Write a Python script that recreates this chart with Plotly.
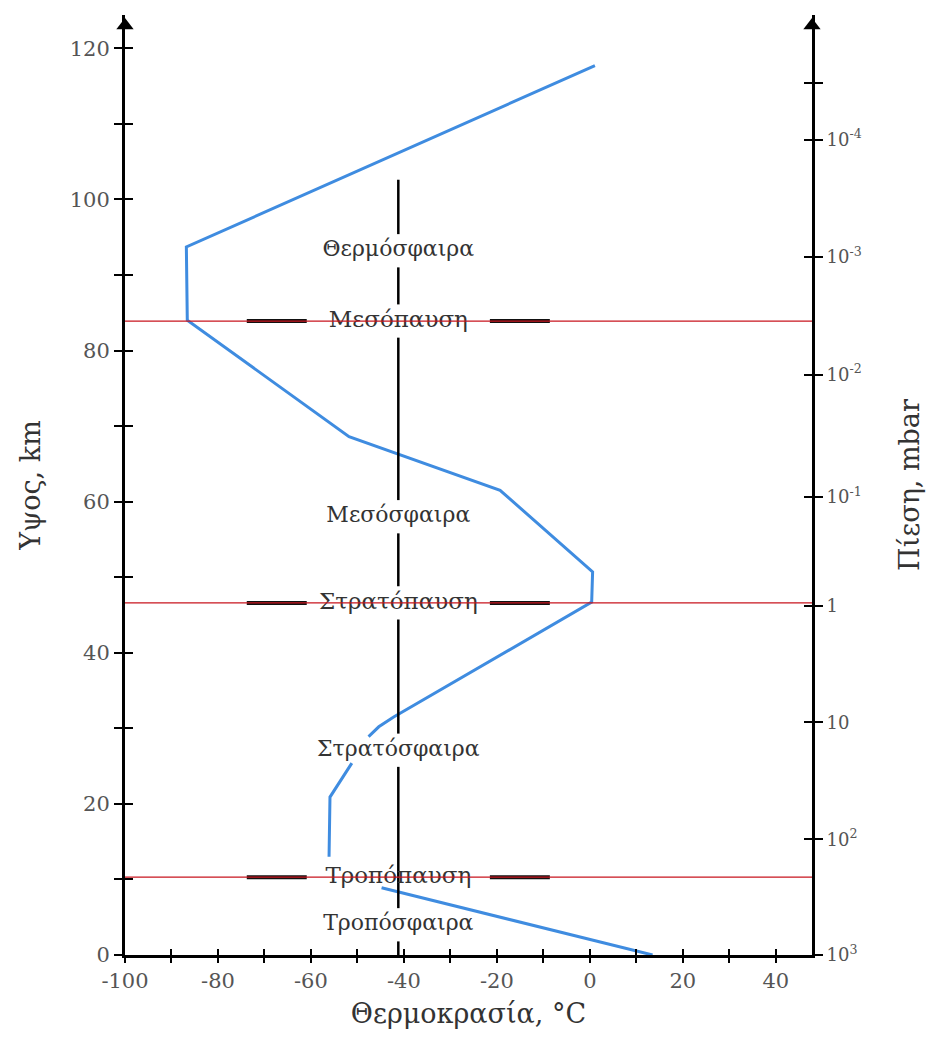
import plotly.graph_objects as go

# ---- data ----
temp_c = [13.5, -44.8, None, -56.1, -55.9, -51.2, None, -47.6, -45.4, -42.2,
          0.4, 0.6, -19.3, -51.8, -86.6, -86.8, 1.1]
alt_km = [0.0, 8.9, None, 13.0, 20.9, 25.4, None, 28.9, 30.2, 31.5,
          46.7, 50.7, 61.5, 68.6, 84.0, 93.7, 117.7]

layer_names = ["Τροπόσφαιρα", "Στρατόσφαιρα", "Μεσόσφαιρα", "Θερμόσφαιρα"]
layer_alt = [4.0, 27.1, 58.0, 93.2]

pause_names = ["Τροπόπαυση", "Στρατόπαυση", "Μεσόπαυση"]
pause_alt = [10.3, 46.6, 83.9]
pause_breaks_divider = [False, True, True]

pressure_labels = ["10<sup>3</sup>", "10<sup>2</sup>", "10", "1", "10<sup>-1</sup>",
                   "10<sup>-2</sup>", "10<sup>-3</sup>", "10<sup>-4</sup>"]
pressure_alt = [0.0, 15.3, 30.8, 46.2, 60.6, 76.8, 92.4, 107.9]
pressure_extra_tick_alt = [115.4]

x_major = list(range(-100, 41, 20))
x_major_text = [str(v) for v in x_major]
x_minor = list(range(-90, 41, 20))
y_major = list(range(0, 121, 20))
y_major_text = [str(v) for v in y_major]
y_minor = list(range(10, 121, 20))

divider_x = -41.2
divider_top = 102.6

# ---- styling constants ----
X_MIN, X_MAX = -100, 47.8
Y_MIN, Y_MAX = 0, 124.4
GAP = 2.2
DASH_HALF = 32.6
TEXT_HALF = 19.7
SERIF = "DejaVu Serif"
BLUE = "#3f8ce0"
RED = "#c8141e"

fig = go.Figure()

# temperature profile
fig.add_trace(go.Scatter(x=temp_c, y=alt_km, mode="lines",
                         line=dict(color=BLUE, width=3), connectgaps=False,
                         hoverinfo="skip", showlegend=False))

# central divider line, interrupted by labels
gaps = sorted(layer_alt + [a for a, b in zip(pause_alt, pause_breaks_divider) if b])
dx, dy = [], []
start = 0.0
for g in gaps:
    dx += [divider_x, divider_x, None]
    dy += [start, g - GAP, None]
    start = g + GAP
dx += [divider_x, divider_x]
dy += [start, divider_top]
fig.add_trace(go.Scatter(x=dx, y=dy, mode="lines", line=dict(color="black", width=2.5),
                         hoverinfo="skip", showlegend=False))

# black dashes either side of pause labels
bx, by = [], []
for a in pause_alt:
    bx += [divider_x - DASH_HALF, divider_x - TEXT_HALF, None,
           divider_x + TEXT_HALF, divider_x + DASH_HALF, None]
    by += [a, a, None, a, a, None]
fig.add_trace(go.Scatter(x=bx, y=by, mode="lines", line=dict(color="#111", width=4),
                         hoverinfo="skip", showlegend=False))

# labels
fig.add_trace(go.Scatter(x=[divider_x] * len(layer_names), y=layer_alt, mode="text",
                         text=layer_names, textposition="middle center",
                         textfont=dict(family=SERIF, size=22, color="#333"),
                         hoverinfo="skip", showlegend=False))
fig.add_trace(go.Scatter(x=[divider_x] * len(pause_names), y=pause_alt, mode="text",
                         text=pause_names, textposition="middle center",
                         textfont=dict(family=SERIF, size=23, color="#333"),
                         hoverinfo="skip", showlegend=False))

# arrow heads on vertical axes
fig.add_trace(go.Scatter(x=[X_MIN, X_MAX], y=[123.0, 123.0], mode="markers",
                         marker=dict(symbol="triangle-up", size=15, color="black"),
                         cliponaxis=False, hoverinfo="skip", showlegend=False))

# invisible anchor traces so that the overlay axes (extra tick sides, pressure axis) are drawn
for xa, ya in [("x2", "y"), ("x", "y2"), ("x", "y3"), ("x", "y4")]:
    fig.add_trace(go.Scatter(x=[X_MIN], y=[Y_MIN], mode="markers", xaxis=xa, yaxis=ya,
                             marker=dict(opacity=0, size=1), hoverinfo="skip",
                             showlegend=False))

# red boundary lines
for a in pause_alt:
    fig.add_shape(type="line", xref="paper", x0=0, x1=1, yref="y", y0=a, y1=a,
                  line=dict(color=RED, width=1.3), layer="above")

tickfont = dict(family=SERIF, size=21, color="#555")
titlefont = dict(family=SERIF, size=27, color="#333")
tick_common = dict(tickwidth=2, tickcolor="black", showgrid=False, zeroline=False)


def minor(vals, side, length):
    return dict(tickmode="array", tickvals=vals, ticks=side, ticklen=length,
                tickwidth=2, tickcolor="black", showgrid=False)


fig.update_layout(
    width=933, height=1040,
    margin=dict(l=125, r=118, t=15, b=85),
    paper_bgcolor="white", plot_bgcolor="white",
    xaxis=dict(range=[X_MIN, X_MAX], tickmode="array", tickvals=x_major, ticktext=x_major_text,
               ticks="outside", ticklen=5, minor=minor(x_minor, "outside", 5),
               showline=True, linecolor="black", linewidth=3, tickfont=tickfont,
               title=dict(text="Θερμοκρασία, °C", font=titlefont, standoff=12), **tick_common),
    xaxis2=dict(range=[X_MIN, X_MAX], overlaying="x", side="bottom", anchor="y",
                tickmode="array", tickvals=x_major, showticklabels=False,
                ticks="inside", ticklen=6, minor=minor(x_minor, "inside", 6),
                showline=False, **tick_common),
    yaxis=dict(range=[Y_MIN, Y_MAX], tickmode="array", tickvals=y_major, ticktext=y_major_text,
               ticks="outside", ticklen=8, minor=minor(y_minor, "outside", 8),
               showline=True, linecolor="black", linewidth=3, tickfont=tickfont,
               title=dict(text="Υψος, km", font=titlefont, standoff=22), **tick_common),
    yaxis3=dict(range=[Y_MIN, Y_MAX], overlaying="y", side="left", anchor="x",
                tickmode="array", tickvals=y_major, showticklabels=False,
                ticks="inside", ticklen=8, minor=minor(y_minor, "inside", 8),
                showline=False, **tick_common),
    yaxis2=dict(range=[Y_MIN, Y_MAX], overlaying="y", side="right", anchor="x",
                tickmode="array", tickvals=pressure_alt, ticktext=pressure_labels,
                ticks="outside", ticklen=8,
                minor=minor(pressure_extra_tick_alt, "outside", 8),
                showline=True, linecolor="black", linewidth=3,
                tickfont=dict(family=SERIF, size=18, color="#555"),
                title=dict(text="Πίεση, mbar", font=titlefont, standoff=40), **tick_common),
    yaxis4=dict(range=[Y_MIN, Y_MAX], overlaying="y", side="right", anchor="x",
                tickmode="array", tickvals=pressure_alt, showticklabels=False,
                ticks="inside", ticklen=8,
                minor=minor(pressure_extra_tick_alt, "inside", 8),
                showline=False, **tick_common),
)

fig.write_html("out.html")
